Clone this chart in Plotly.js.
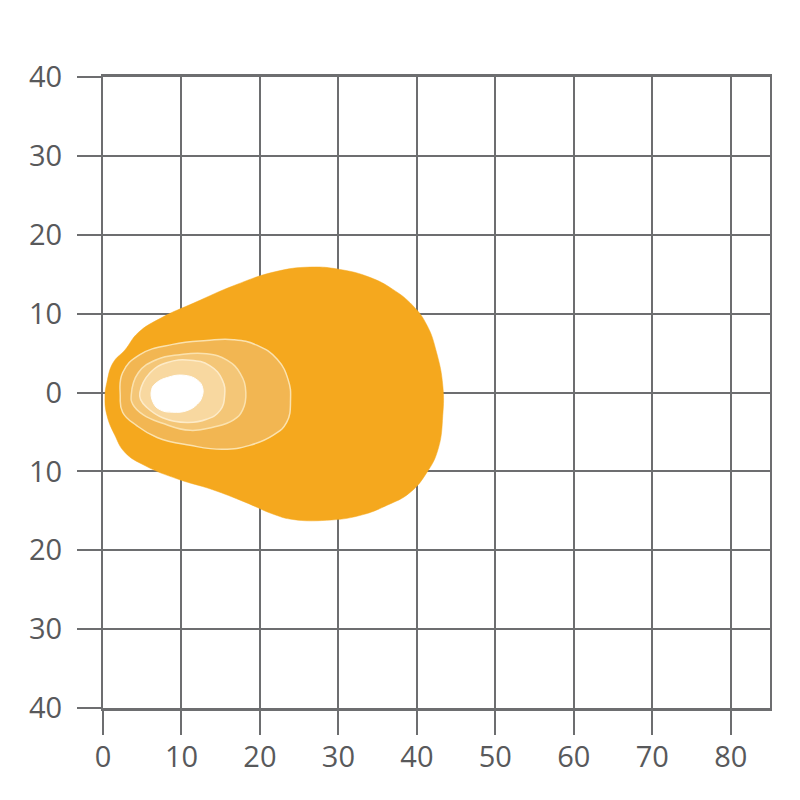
<!DOCTYPE html>
<html>
<head>
<meta charset="utf-8">
<script src="https://cdn.plot.ly/plotly-3.0.1.min.js"></script>
<style>html,body{margin:0;padding:0;background:#fff;}#chart{width:800px;height:800px;}</style>
</head>
<body>
<div id="chart"></div>
<script>
// Tick values and labels
const xTickVals = [0, 10, 20, 30, 40, 50, 60, 70, 80];
const xTickText = ['0', '10', '20', '30', '40', '50', '60', '70', '80'];
const yTickVals = [-40, -30, -20, -10, 0, 10, 20, 30, 40];
const yTickText = ['40', '30', '20', '10', '0', '10', '20', '30', '40'];

// Outer beam region (x = distance, y = lateral)
const outerX = [0.25, 0.5, 1.3, 2.8, 4.5, 7.5, 11.7, 16.8, 21.9, 26.4, 30.2, 34.0, 36.9, 39.5, 41.3, 42.5, 43.3, 43.3, 42.7, 41.3, 39.1, 36.2, 32.7, 28.5, 24.2, 21.9, 18.1, 13.9, 9.6, 5.4, 2.8, 1.5, 0.5, 0.25];
const outerY = [-0.6, 1.3, 3.8, 5.4, 7.6, 9.5, 11.4, 13.6, 15.3, 15.9, 15.6, 14.6, 13.1, 11.0, 8.5, 5.1, 0.9, -2.9, -7.2, -10.1, -12.7, -14.3, -15.6, -16.2, -16.1, -15.5, -13.9, -12.3, -11.0, -9.3, -7.6, -5.4, -2.9, -0.6];

// Contour 1
const c1X = [2.2, 2.5, 4.7, 8.9, 13.2, 16.6, 19.6, 22.2, 23.6, 23.9, 23.4, 21.7, 18.7, 15.3, 11.1, 6.9, 4.3, 2.5, 2.2];
const c1Y = [-0.4, 2.5, 4.8, 6.1, 6.6, 6.7, 6.0, 4.2, 1.6, -0.9, -3.8, -5.4, -6.7, -7.2, -6.7, -5.7, -4.2, -2.5, -0.4];

// Contour 2
const c2X = [3.6, 4.5, 6.9, 9.8, 13.2, 15.8, 17.5, 18.2, 17.8, 16.6, 14.0, 11.1, 7.6, 5.1, 3.8, 3.6];
const c2Y = [-0.3, 2.5, 4.2, 4.8, 4.9, 4.1, 2.4, 0.0, -2.2, -3.5, -4.4, -4.8, -3.9, -2.8, -1.5, -0.3];

// Contour 3
const c3X = [4.7, 6.0, 8.2, 11.1, 13.6, 15.2, 15.5, 14.9, 13.2, 10.7, 7.6, 5.6, 4.8, 4.7];
const c3Y = [0.0, 2.5, 3.8, 4.1, 3.4, 1.6, -0.4, -2.3, -3.4, -3.8, -3.2, -1.9, -0.9, 0.0];

// Brightest core
const coreX = [6.2, 6.9, 8.2, 10.2, 12.0, 12.7, 12.6, 12.0, 10.7, 8.9, 7.3, 6.4, 6.2];
const coreY = [0.4, 1.3, 1.9, 2.2, 1.6, 0.6, -0.6, -1.5, -2.3, -2.5, -2.2, -1.3, 0.4];

function region(x, y, fill, lineColor, lineWidth) {
  return {
    type: 'scatter', mode: 'lines', x: x, y: y,
    fill: 'toself', fillcolor: fill,
    line: {color: lineColor, width: lineWidth, shape: 'spline', smoothing: 1.3},
    hoverinfo: 'skip', showlegend: false
  };
}

const traces = [
  region(outerX, outerY, '#F5A81E', '#F5A81E', 0.5),
  region(c1X, c1Y, '#F2B652', '#FBE2AE', 1.5),
  region(c2X, c2Y, '#F4C677', '#FBE2AE', 1.5),
  region(c3X, c3Y, '#F8D8A0', '#FDEBC8', 1.5),
  region(coreX, coreY, '#FFFFFF', '#FFFFFF', 1)
];

const axisFont = {family: 'Open Sans, sans-serif', size: 29, color: '#58595B'};

const layout = {
  width: 800, height: 800,
  margin: {l: 103, r: 30, t: 77, b: 92, pad: 0},
  paper_bgcolor: '#FFFFFF', plot_bgcolor: '#FFFFFF',
  showlegend: false,
  xaxis: {
    range: [0, 85], tickvals: xTickVals, ticktext: xTickText,
    ticks: 'outside', ticklen: 24, tickwidth: 2, tickcolor: '#6D6E70',
    showgrid: true, gridcolor: '#6D6E70', gridwidth: 2,
    showline: true, linecolor: '#6D6E70', linewidth: 3, mirror: true,
    zeroline: false, tickfont: axisFont, ticklabelstandoff: -3, fixedrange: true
  },
  yaxis: {
    range: [-40, 40], tickvals: yTickVals, ticktext: yTickText,
    ticks: 'outside', ticklen: 24, tickwidth: 2, tickcolor: '#6D6E70',
    showgrid: true, gridcolor: '#6D6E70', gridwidth: 2,
    showline: true, linecolor: '#6D6E70', linewidth: 2, mirror: true,
    zeroline: false, tickfont: axisFont, ticklabelstandoff: 9, fixedrange: true
  }
};

Plotly.newPlot('chart', traces, layout, {displayModeBar: false, staticPlot: true});
</script>
</body>
</html>
